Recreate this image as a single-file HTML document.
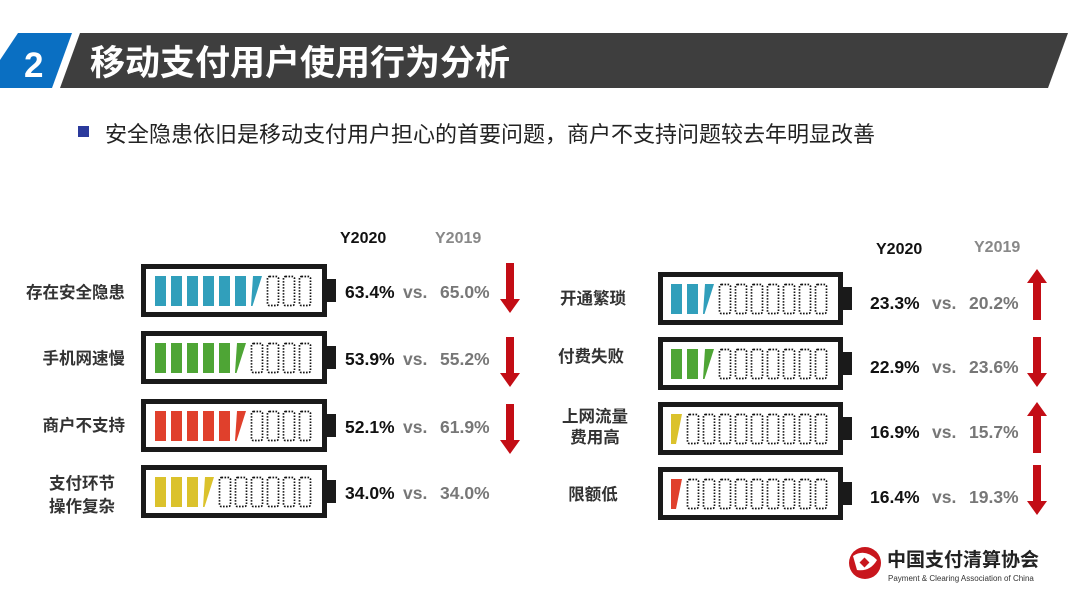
<!DOCTYPE html>
<html><head><meta charset="utf-8"><style>
body{margin:0;width:1080px;height:607px;background:#fff;overflow:hidden}
</style></head><body>
<svg width="1080" height="607" xmlns="http://www.w3.org/2000/svg" font-family="Liberation Sans, Noto Sans CJK SC, sans-serif">
<defs>
<rect id="f" width="11" height="30"/>
<polygon id="p" points="0,30 1.5,30 11,0 2,0"/>
<rect id="d" x="0.5" y="0.5" width="11" height="29" rx="2" fill="none" stroke="#111" stroke-width="1.7" stroke-dasharray="1.6,1.4"/>
<g id="bl"><rect x="2.5" y="2.5" width="181" height="48" fill="#fff" stroke="#1a1a1a" stroke-width="5"/><rect x="186" y="15" width="9" height="23" fill="#1a1a1a"/></g>
<g id="br"><rect x="2.5" y="2.5" width="180" height="48" fill="#fff" stroke="#1a1a1a" stroke-width="5"/><rect x="185" y="15" width="9" height="23" fill="#1a1a1a"/></g>
<polygon id="ad" points="-4,0 4,0 4,36 10,36 0,50 -10,36 -4,36" fill="#c30d15"/>
<polygon id="au" points="-4,51 4,51 4,14 10,14 0,0 -10,14 -4,14" fill="#c30d15"/>
</defs>
<polygon points="18,33 72,33 52,88 0,88 0,60" fill="#0a6fc2"/>
<polygon points="80,33 1068,33 1048,88 60,88" fill="#3e3e3e"/>
<text x="24" y="77" font-size="35" font-weight="bold" fill="#fff">2</text>
<text x="90" y="75" font-size="35" font-weight="bold" fill="#fff">移动支付用户使用行为分析</text>
<rect x="78" y="126" width="11" height="11" fill="#2b3a9c"/>
<text x="105" y="142" font-size="22" fill="#222">安全隐患依旧是移动支付用户担心的首要问题，商户不支持问题较去年明显改善</text>

<g font-weight="bold" font-size="16">
<text x="340" y="243" fill="#111">Y2020</text><text x="435" y="243" fill="#888">Y2019</text>
<text x="876" y="254" fill="#111">Y2020</text><text x="974" y="252" fill="#888">Y2019</text>
</g>

<g transform="translate(141,264)"><use href="#bl"/>
<g transform="translate(0,12)" fill="#319fbb"><use href="#f" x="14"/><use href="#f" x="30"/><use href="#f" x="46"/><use href="#f" x="62"/><use href="#f" x="78"/><use href="#f" x="94"/><use href="#p" x="110"/><use href="#d" x="126"/><use href="#d" x="142"/><use href="#d" x="158"/></g></g>
<g transform="translate(141,331)"><use href="#bl"/>
<g transform="translate(0,12)" fill="#4ea535"><use href="#f" x="14"/><use href="#f" x="30"/><use href="#f" x="46"/><use href="#f" x="62"/><use href="#f" x="78"/><use href="#p" x="94"/><use href="#d" x="110"/><use href="#d" x="126"/><use href="#d" x="142"/><use href="#d" x="158"/></g></g>
<g transform="translate(141,399)"><use href="#bl"/>
<g transform="translate(0,12)" fill="#e0402c"><use href="#f" x="14"/><use href="#f" x="30"/><use href="#f" x="46"/><use href="#f" x="62"/><use href="#f" x="78"/><use href="#p" x="94"/><use href="#d" x="110"/><use href="#d" x="126"/><use href="#d" x="142"/><use href="#d" x="158"/></g></g>
<g transform="translate(141,465)"><use href="#bl"/>
<g transform="translate(0,12)" fill="#dbc22c"><use href="#f" x="14"/><use href="#f" x="30"/><use href="#f" x="46"/><use href="#p" x="62"/><use href="#d" x="78"/><use href="#d" x="94"/><use href="#d" x="110"/><use href="#d" x="126"/><use href="#d" x="142"/><use href="#d" x="158"/></g></g>

<g transform="translate(658,272)"><use href="#br"/>
<g transform="translate(0,12)" fill="#319fbb"><use href="#f" x="13"/><use href="#f" x="29"/><use href="#p" x="45"/><use href="#d" x="61"/><use href="#d" x="77"/><use href="#d" x="93"/><use href="#d" x="109"/><use href="#d" x="125"/><use href="#d" x="141"/><use href="#d" x="157"/></g></g>
<g transform="translate(658,337)"><use href="#br"/>
<g transform="translate(0,12)" fill="#4ea535"><use href="#f" x="13"/><use href="#f" x="29"/><use href="#p" x="45"/><use href="#d" x="61"/><use href="#d" x="77"/><use href="#d" x="93"/><use href="#d" x="109"/><use href="#d" x="125"/><use href="#d" x="141"/><use href="#d" x="157"/></g></g>
<g transform="translate(658,402)"><use href="#br"/>
<g transform="translate(0,12)" fill="#dbc22c"><polygon points="13,30 18,30 24,0 13,0"/><use href="#d" x="29"/><use href="#d" x="45"/><use href="#d" x="61"/><use href="#d" x="77"/><use href="#d" x="93"/><use href="#d" x="109"/><use href="#d" x="125"/><use href="#d" x="141"/><use href="#d" x="157"/></g></g>
<g transform="translate(658,467)"><use href="#br"/>
<g transform="translate(0,12)" fill="#e0402c"><polygon points="13,30 18,30 24,0 13,0"/><use href="#d" x="29"/><use href="#d" x="45"/><use href="#d" x="61"/><use href="#d" x="77"/><use href="#d" x="93"/><use href="#d" x="109"/><use href="#d" x="125"/><use href="#d" x="141"/><use href="#d" x="157"/></g></g>

<g font-size="17.5" font-weight="bold">
<text x="345" y="298" fill="#111">63.4%</text><text x="403" y="298" fill="#777">vs.</text><text x="440" y="298" fill="#777">65.0%</text>
<text x="345" y="365" fill="#111">53.9%</text><text x="403" y="365" fill="#777">vs.</text><text x="440" y="365" fill="#777">55.2%</text>
<text x="345" y="433" fill="#111">52.1%</text><text x="403" y="433" fill="#777">vs.</text><text x="440" y="433" fill="#777">61.9%</text>
<text x="345" y="499" fill="#111">34.0%</text><text x="403" y="499" fill="#777">vs.</text><text x="440" y="499" fill="#777">34.0%</text>
<text x="870" y="309" fill="#111">23.3%</text><text x="932" y="309" fill="#777">vs.</text><text x="969" y="309" fill="#777">20.2%</text>
<text x="870" y="373" fill="#111">22.9%</text><text x="932" y="373" fill="#777">vs.</text><text x="969" y="373" fill="#777">23.6%</text>
<text x="870" y="438" fill="#111">16.9%</text><text x="932" y="438" fill="#777">vs.</text><text x="969" y="438" fill="#777">15.7%</text>
<text x="870" y="503" fill="#111">16.4%</text><text x="932" y="503" fill="#777">vs.</text><text x="969" y="503" fill="#777">19.3%</text>
</g>

<use href="#ad" x="510" y="263"/>
<use href="#ad" x="510" y="337"/>
<use href="#ad" x="510" y="404"/>
<use href="#au" x="1037" y="269"/>
<use href="#ad" x="1037" y="337"/>
<use href="#au" x="1037" y="402"/>
<use href="#ad" x="1037" y="465"/>

<g font-size="16.5" font-weight="bold" fill="#333" text-anchor="end">
<text x="125" y="298">存在安全隐患</text>
<text x="125" y="364">手机网速慢</text>
<text x="125" y="431">商户不支持</text>
<text x="115" y="489">支付环节</text>
<text x="115" y="512">操作复杂</text>
</g>
<g font-size="16.5" font-weight="bold" fill="#333" text-anchor="middle">
<text x="593" y="304">开通繁琐</text>
<text x="591" y="362">付费失败</text>
<text x="595" y="422">上网流量</text>
<text x="595" y="443">费用高</text>
<text x="593" y="500">限额低</text>
</g>
<circle cx="865" cy="563" r="16" fill="#c8161d"/>
<path d="M853 556 Q865 548 877 560 Q870 572 857 570 Z" fill="#fff"/>
<rect x="861" y="559" width="7" height="7" transform="rotate(45 864.5 562.5)" fill="#c8161d"/>
<text x="887" y="566" font-size="19" font-weight="bold" fill="#222">中国支付清算协会</text>
<text x="888" y="581" font-size="8" fill="#333">Payment &amp; Clearing Association of China</text>
</svg>
</body></html>
